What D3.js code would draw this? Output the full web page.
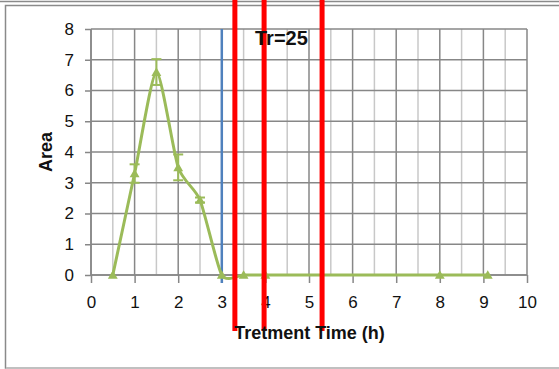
<!DOCTYPE html>
<html><head><meta charset="utf-8">
<script src="https://cdn.jsdelivr.net/npm/d3@7"></script>
<style>html,body{margin:0;padding:0;background:#fff;}svg{display:block;}</style>
</head><body>
<svg id="c" width="559" height="369"></svg>
<script>
// ---- data ----
const timeH = [0.5, 1, 1.5, 2, 2.5, 3, 3.5, 4, 8, 9.1];
const areaVals = [0, 3.3, 6.6, 3.5, 2.44, 0, 0, 0, 0, 0];
const areaErr = [0, 0.3, 0.42, 0.42, 0.08, 0, 0, 0, 0, 0];
const xTicks = [0,1,2,3,4,5,6,7,8,9,10];
const yTicks = [0,1,2,3,4,5,6,7,8];
const blueLineX = [3];
const redLineX = [3.3, 3.97, 5.3];
const annotation = "Tr=25";
const xTitle = "Tretment Time (h)";
const yTitle = "Area";

const svg = d3.select("#c");
const L = 91, T = 29, W = 436, H = 246;
const x = d3.scaleLinear().domain([0, 10]).range([L, L + W]);
const y = d3.scaleLinear().domain([0, 8]).range([T + H, T]);
const green = "#9BBB59";
const font = "'Liberation Sans', Arial, sans-serif";

// frame
svg.append("line").attr("x1",0).attr("x2",559).attr("y1",1.5).attr("y2",1.5).attr("stroke","#8a8a8a").attr("stroke-width",1.5);
svg.append("rect").attr("x",5.5).attr("y",5.5).attr("width",600).attr("height",362.5)
  .attr("fill","none").attr("stroke","#8a8a8a").attr("stroke-width",1.5);
svg.append("line").attr("x1",6).attr("x2",559).attr("y1",368).attr("y2",368).attr("stroke","#c8c8c8").attr("stroke-width",1.5);

// minor vertical grid
const g = svg.append("g");
g.selectAll(".minor").data(d3.range(0.5, 10, 1)).enter().append("line")
  .attr("x1", d => x(d)).attr("x2", d => x(d)).attr("y1", y(0)).attr("y2", y(8))
  .attr("stroke", "#c8c8c8").attr("stroke-width", 1.5);
// major grid
g.selectAll(".vmaj").data(xTicks).enter().append("line")
  .attr("x1", d => x(d)).attr("x2", d => x(d)).attr("y1", y(0)).attr("y2", y(8))
  .attr("stroke", "#878787").attr("stroke-width", 1.5);
g.selectAll(".hmaj").data(yTicks).enter().append("line")
  .attr("x1", x(0)).attr("x2", x(10)).attr("y1", d => y(d)).attr("y2", d => y(d))
  .attr("stroke", "#878787").attr("stroke-width", 1.5);

// axes
const xAxis = svg.append("g").attr("transform", `translate(0,${y(0)})`)
  .call(d3.axisBottom(x).tickValues(xTicks).tickSize(8).tickPadding(13).tickFormat(d3.format("d")));
const yAxis = svg.append("g").attr("transform", `translate(${x(0)},0)`)
  .call(d3.axisLeft(y).tickValues(yTicks).tickSize(6).tickPadding(11).tickFormat(d3.format("d")));
[xAxis, yAxis].forEach(a => {
  a.select(".domain").attr("stroke", "#878787").attr("stroke-width", 1.5);
  a.selectAll(".tick line").attr("stroke", "#878787").attr("stroke-width", 1.5);
  a.selectAll("text").attr("font-family", font).attr("font-size", 17).attr("fill", "#111");
});
xAxis.select(".domain").attr("d", `M${x(0)},0H${x(10)}`);
yAxis.select(".domain").attr("d", `M0,${y(0)}V${y(8)}`);

// blue vertical line
svg.selectAll(".blue").data(blueLineX).enter().append("line")
  .attr("x1", d => x(d)).attr("x2", d => x(d)).attr("y1", y(8)).attr("y2", y(0) + 8)
  .attr("stroke", "#4F81BD").attr("stroke-width", 2.5);

// series
const pts = timeH.map((t, i) => ({t, v: areaVals[i], e: areaErr[i]}));
const line = d3.line().x(d => x(d.t)).y(d => y(d.v)).curve(d3.curveCardinal.tension(0.35));
svg.append("path").datum(pts).attr("d", line).attr("fill", "none")
  .attr("stroke", green).attr("stroke-width", 3).attr("stroke-linejoin", "round");

// error bars
const eb = svg.append("g").attr("stroke", green).attr("stroke-width", 2);
pts.filter(d => d.e > 0).forEach(d => {
  eb.append("line").attr("x1", x(d.t)).attr("x2", x(d.t)).attr("y1", y(d.v - d.e)).attr("y2", y(d.v + d.e));
  [d.v - d.e, d.v + d.e].forEach(v => {
    eb.append("line").attr("x1", x(d.t) - 5).attr("x2", x(d.t) + 5).attr("y1", y(v)).attr("y2", y(v));
  });
});

// markers
svg.selectAll(".mk").data(pts).enter().append("path")
  .attr("d", d3.symbol().type(d3.symbolTriangle).size(42))
  .attr("transform", d => `translate(${x(d.t)},${y(d.v) + 1})`)
  .attr("fill", green);

// red lines
svg.selectAll(".red").data(redLineX).enter().append("line")
  .attr("x1", d => x(d)).attr("x2", d => x(d)).attr("y1", 0).attr("y2", 331)
  .attr("stroke", "#FF0000").attr("stroke-width", 5);

// texts
svg.append("text").attr("x", 255).attr("y", 45).text(annotation)
  .attr("font-family", font).attr("font-weight", "bold").attr("font-size", 20).attr("fill", "#111");
svg.append("text").attr("x", 309.5).attr("y", 339).attr("text-anchor", "middle").text(xTitle)
  .attr("font-family", font).attr("font-weight", "bold").attr("font-size", 18).attr("fill", "#111");
svg.append("text").attr("transform", "translate(52,152) rotate(-90)").attr("text-anchor", "middle").text(yTitle)
  .attr("font-family", font).attr("font-weight", "bold").attr("font-size", 18).attr("fill", "#111");
</script>
</body></html>
